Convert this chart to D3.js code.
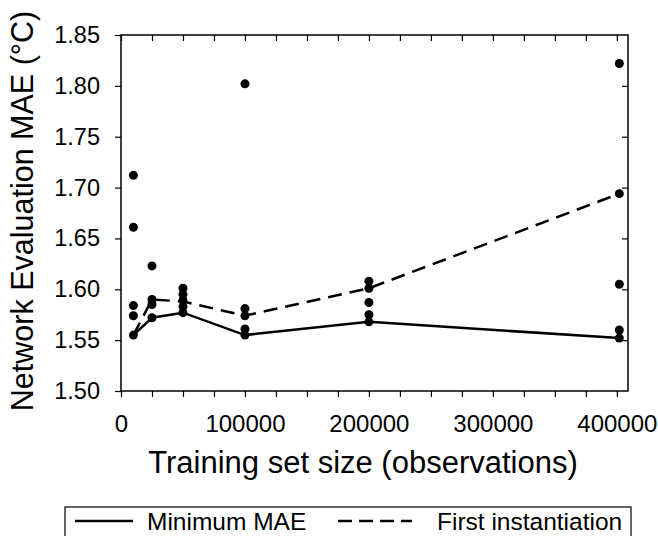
<!DOCTYPE html>
<html>
<head>
<meta charset="utf-8">
<script src="https://cdn.jsdelivr.net/npm/d3@7"></script>
<style>
  body { margin: 0; background: #fff; }
  svg text { font-family: "Liberation Sans", Arial, sans-serif; fill: #000; }
</style>
</head>
<body>
<div id="chart"></div>
<script>
// Training set sizes (x positions of each group of runs)
const trainingSizes = [10000, 25000, 50000, 100000, 200000, 402000];

// MAE of every network instantiation at each training set size
const instantiationMAE = [
    [1.712, 1.661, 1.584, 1.574, 1.555],
    [1.623, 1.590, 1.585, 1.572],
    [1.601, 1.595, 1.589, 1.583, 1.577],
    [1.802, 1.581, 1.574, 1.561, 1.555],
    [1.608, 1.601, 1.587, 1.575, 1.568],
    [1.822, 1.694, 1.605, 1.560, 1.552]
];

// Line series
const minimumMAE = [1.555, 1.572, 1.577, 1.555, 1.568, 1.552];
const firstInstantiation = [1.555, 1.590, 1.588, 1.574, 1.601, 1.694];

// Axis ticks
const yTicks = [1.50, 1.55, 1.60, 1.65, 1.70, 1.75, 1.80, 1.85];
const xTicks = d3.range(0, 400001, 25000);
const xLabels = [0, 100000, 200000, 300000, 400000];

const legendItems = ['Minimum MAE', 'First instantiation'];

// Layout
const W = 658, H = 536;
const margin = { top: 35, right: 30, bottom: 145, left: 121 };
const width = W - margin.left - margin.right;
const height = H - margin.top - margin.bottom;

const svg = d3.select('#chart')
    .append('svg')
    .attr('width', W)
    .attr('height', H);

const g = svg.append('g')
    .attr('transform', `translate(${margin.left},${margin.top})`);

// Scales
const x = d3.scaleLinear()
    .domain([0, 409000])
    .range([0, width]);

const y = d3.scaleLinear()
    .domain([1.50, 1.85])
    .range([height, 0]);

// Axes
const xAxis = d3.axisBottom(x)
    .tickValues(xTicks)
    .tickSize(6)
    .tickSizeOuter(0)
    .tickPadding(18)
    .tickFormat(d => xLabels.includes(d) ? d : '');

const yAxis = d3.axisLeft(y)
    .tickValues(yTicks)
    .tickSize(6)
    .tickSizeOuter(0)
    .tickPadding(15)
    .tickFormat(d3.format('.2f'));

const bottomAxis = g.append('g')
    .attr('transform', `translate(0,${height})`)
    .call(xAxis);

const leftAxis = g.append('g')
    .call(yAxis);

// Mirrored ticks on top and right, pointing inward
const topAxis = g.append('g')
    .call(d3.axisTop(x).tickValues(xTicks).tickSize(-6).tickSizeOuter(0).tickFormat(''));

const rightAxis = g.append('g')
    .attr('transform', `translate(${width},0)`)
    .call(d3.axisRight(y).tickValues(yTicks.slice(1, -1)).tickSize(-6).tickSizeOuter(0).tickFormat(''));

[bottomAxis, leftAxis, topAxis, rightAxis].forEach(a => {
    a.select('.domain').remove();
    a.selectAll('line').attr('stroke', '#000').attr('stroke-width', 1.2);
});
bottomAxis.selectAll('text').style('font-size', '24px');
leftAxis.selectAll('text').style('font-size', '23.5px');

// Plot frame
g.append('rect')
    .attr('x', 0)
    .attr('y', 0)
    .attr('width', width)
    .attr('height', height)
    .attr('fill', 'none')
    .attr('stroke', '#000')
    .attr('stroke-width', 1.5);

// Axis titles
svg.append('text')
    .attr('x', 363)
    .attr('y', 473)
    .attr('text-anchor', 'middle')
    .style('font-size', '31px')
    .text('Training set size (observations)');

svg.append('text')
    .attr('transform', 'translate(33,211) rotate(-90)')
    .attr('text-anchor', 'middle')
    .style('font-size', '30.5px')
    .text('Network Evaluation MAE (°C)');

// Lines
const line = d3.line()
    .x((d, i) => x(trainingSizes[i]))
    .y(d => y(d));

g.append('path')
    .datum(minimumMAE)
    .attr('d', line)
    .attr('fill', 'none')
    .attr('stroke', '#000')
    .attr('stroke-width', 2.5);

g.append('path')
    .datum(firstInstantiation)
    .attr('d', line)
    .attr('fill', 'none')
    .attr('stroke', '#000')
    .attr('stroke-width', 2.5)
    .attr('stroke-dasharray', '14,8');

// Points
const points = [];
trainingSizes.forEach((size, i) => {
    instantiationMAE[i].forEach(v => points.push({ size: size, value: v }));
});

g.selectAll('.dot')
    .data(points)
    .enter()
    .append('circle')
    .attr('class', 'dot')
    .attr('cx', d => x(d.size))
    .attr('cy', d => y(d.value))
    .attr('r', 4.5)
    .attr('fill', '#000');

// Legend
const legend = svg.append('g')
    .attr('class', 'legend');

legend.append('rect')
    .attr('x', 65)
    .attr('y', 507)
    .attr('width', 566)
    .attr('height', 40)
    .attr('fill', 'none')
    .attr('stroke', '#000')
    .attr('stroke-width', 1.2);

const legendPos = [
    { x1: 75, x2: 133, tx: 147, dash: null },
    { x1: 338, x2: 412, tx: 437, dash: '14,7' }
];

legendItems.forEach((name, i) => {
    const p = legendPos[i];
    legend.append('line')
        .attr('x1', p.x1)
        .attr('x2', p.x2)
        .attr('y1', 521)
        .attr('y2', 521)
        .attr('stroke', '#000')
        .attr('stroke-width', 2.5)
        .attr('stroke-dasharray', p.dash);

    legend.append('text')
        .attr('x', p.tx)
        .attr('y', 530)
        .style('font-size', '24.5px')
        .text(name);
});
</script>
</body>
</html>
